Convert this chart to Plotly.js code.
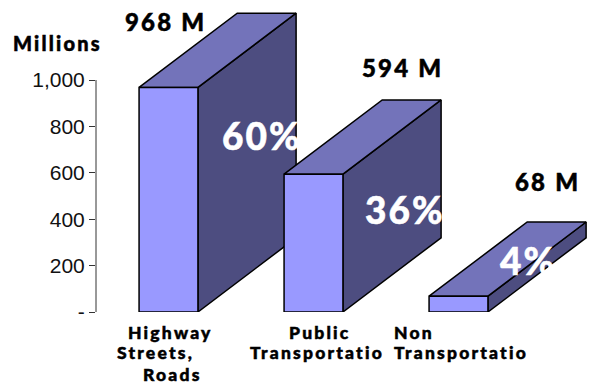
<!DOCTYPE html>
<html>
<head>
<meta charset="utf-8">
<script src="https://cdn.plot.ly/plotly-3.0.1.min.js"></script>
<style>
html, body { margin: 0; padding: 0; background: #fff; }
#chart { width: 589px; height: 385px; }
/* Heavier, wider setting for the bold labels */
.annotation-text { letter-spacing: 2.2px; stroke: #000; stroke-width: 0.5px; }
.annotation-text[style*="rgb(255, 255, 255)"] { stroke: #fff; letter-spacing: 2px; }
</style>
</head>
<body>
<div id="chart"></div>
<script>
// Funding by category, in millions
const categories = ["Highway Streets, Roads", "Public Transportation", "Non Transportation"];
const values = [968, 594, 68];
const valueLabels = ["968 M", "594 M", "68 M"];
const shareLabels = ["60%", "36%", "4%"];
const tickValues = [0, 200, 400, 600, 800, 1000];
const tickLabels = ["-", "200", "400", "600", "800", "1,000"];
const categoryLines = [["Highway", "Streets,", "Roads"], ["Public", "Transportatio"], ["Non", "Transportatio"]];

// Frame of the plotting area, in pixels
const W = 589, H = 385;
const plotLeft = 96, plotBottom = 312;
const plotWidth = W - plotLeft;
const pxPerUnit = 0.232;               // pixels per million on the value axis

// Block geometry in axis units
const slotPx = 145;
const xMax = plotWidth / slotPx;
const yMax = plotBottom / pxPerUnit;
const halfWidth = 0.203;
const depthX = 0.677;
const depthY = 320;

const FRONT = "#9999FF", TOP = "#7373BA", SIDE = "#4D4D80";
const BOLD = "Lato, 'Open Sans', sans-serif";

function face(xs, ys, color) {
  return {
    type: "scatter", mode: "lines", x: xs, y: ys, fill: "toself", fillcolor: color,
    line: { color: "#000", width: 1.5, shape: "linear" },
    hoverinfo: "skip", showlegend: false, cliponaxis: false
  };
}

// Back-to-front per block so that later blocks overlap earlier side faces
const traces = [];
values.forEach((v, i) => {
  const l = i + 0.5 - halfWidth, r = i + 0.5 + halfWidth;
  traces.push(face([r, r + depthX, r + depthX, r, r], [0, depthY, v + depthY, v, 0], SIDE));
  traces.push(face([l, l + depthX, r + depthX, r, l], [v, v + depthY, v + depthY, v, v], TOP));
  traces.push(face([l, r, r, l, l], [0, 0, v, v, 0], FRONT));
});

// Text placement helpers: left edge and vertical centre in pixels
const px = x => (x - plotLeft) / plotWidth;
const py = y => (plotBottom - y) / plotBottom;
function note(text, x, y, size, color) {
  return {
    text: text, xref: "paper", yref: "paper", x: px(x), y: py(y),
    xanchor: "left", yanchor: "middle", showarrow: false, align: "left",
    font: { family: BOLD, size: size, color: color, weight: 900 }
  };
}

const valueAt = [[123, 22], [360, 67], [513, 182]];
const shareAt = [[220, 135], [363, 209], [498, 260]];
const lineAt = [
  [[126, 332], [115, 352], [141, 374]],
  [[287, 332], [248, 352]],
  [[392, 332], [392, 352]]
];

const annotations = [note("Millions", 11, 43, 20, "#000")];
valueLabels.forEach((t, i) => annotations.push(note(t, valueAt[i][0], valueAt[i][1], 24, "#000")));
shareLabels.forEach((t, i) => annotations.push(note(t, shareAt[i][0], shareAt[i][1], 37, "#fff")));
categoryLines.forEach((lines, i) => lines.forEach((t, j) =>
  annotations.push(note(t, lineAt[i][j][0], lineAt[i][j][1], 17.5, "#000"))));

Plotly.newPlot("chart", traces, {
  width: W, height: H,
  margin: { l: plotLeft, r: 0, t: 0, b: H - plotBottom, pad: 0 },
  paper_bgcolor: "#fff", plot_bgcolor: "rgba(0,0,0,0)",
  showlegend: false,
  xaxis: { range: [0, xMax], visible: false, fixedrange: true },
  yaxis: {
    range: [0, yMax], tickmode: "array", tickvals: tickValues, ticktext: tickLabels,
    ticks: "outside", ticklen: 6, tickwidth: 1, tickcolor: "#333",
    showline: false, showgrid: false, zeroline: false,
    tickfont: { family: "'Liberation Sans', Arial, sans-serif", size: 21, color: "#111" },
    fixedrange: true
  },
  // The value axis line stops at the last tick
  shapes: [{
    type: "line", layer: "below", xref: "paper", yref: "y", x0: 0, x1: 0, y0: 0,
    y1: tickValues[tickValues.length - 1], line: { color: "#333", width: 1 }
  }],
  annotations: annotations
}, { displayModeBar: false, staticPlot: true });
</script>
</body>
</html>
